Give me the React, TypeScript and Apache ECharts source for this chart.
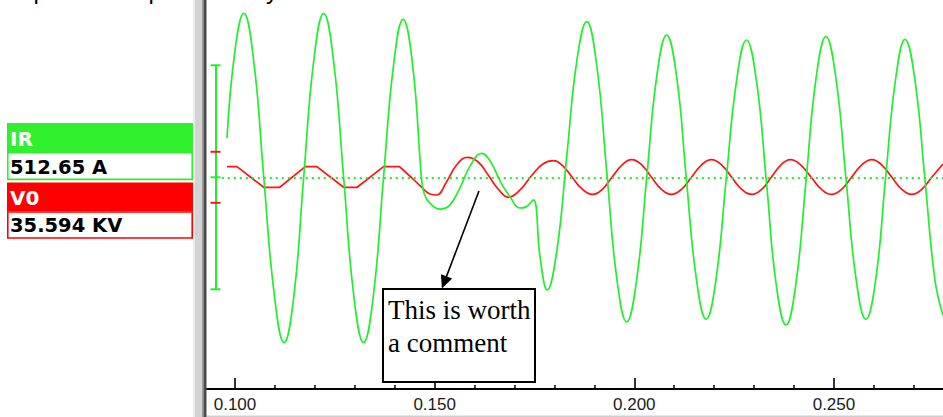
import React, { useEffect, useRef } from "react";
import * as echarts from "echarts";

// ---- data ----
// IR channel (green), time in s, current in A
const irTimes = [
  0.098, 0.1, 0.1022, 0.1047, 0.1072, 0.1098, 0.1123, 0.1148, 0.1172, 0.1197,
  0.1222, 0.1247, 0.1272, 0.1297, 0.1322, 0.1347, 0.1372, 0.1397, 0.1421, 0.1445,
  0.1468, 0.1475, 0.1488, 0.1513, 0.1538, 0.1563, 0.1589, 0.1618, 0.1639, 0.1664,
  0.1689, 0.1714, 0.1729, 0.1747, 0.1764, 0.1782, 0.1806, 0.1831, 0.1856, 0.1881,
  0.1906, 0.1931, 0.1956, 0.1981, 0.2006, 0.2031, 0.2056, 0.2081, 0.2106, 0.213,
  0.2155, 0.218, 0.2205, 0.223, 0.2256, 0.2281, 0.2306, 0.2331, 0.2355, 0.238,
  0.2405, 0.243, 0.2455, 0.248, 0.2505, 0.253, 0.2555, 0.258, 0.2605, 0.2629,
  0.2654, 0.2678, 0.2703, 0.2728, 0.2753, 0.2773,
];
const irAmps = [
  175, 568, 732, 518, 0, -518, -738, -521, 0, 518,
  732, 518, 0, -521, -738, -521, 0, 500, 705, 500,
  -21, -79, -115, -142, -124, -48, 51, 107, 73, -17,
  -88, -137, -132, -101, -356, -503, -327, 96, 519, 695,
  498, 25, -449, -645, -457, -4, 448, 635, 450, 0,
  -448, -634, -451, -11, 430, 613, 429, -23, -473, -659,
  -471, -16, 439, 628, 441, -3, -449, -634, -451, -9,
  433, 616, 432, -12, -459, -615,
];
// V0 channel (red), time in s, voltage in kV — clipped part before the event
const v0PreTimes = [0.098, 0.1005, 0.1072, 0.1112, 0.1176, 0.1205, 0.1272, 0.1306, 0.1372, 0.1412, 0.1443, 0.1472];
const v0PreKV = [20.8, 20.8, -19.6, -19.6, 20.8, 20.8, -19.6, -19.6, 20.8, 20.8, -1.4, -22.9];
// V0 channel after the event
const v0PostTimes = [
  0.1472, 0.1488, 0.1505, 0.153, 0.1555, 0.1582, 0.1609, 0.1634, 0.1659, 0.1685,
  0.1714, 0.1744, 0.1771, 0.1798, 0.1821, 0.1844, 0.1869, 0.1895, 0.192, 0.1944,
  0.1969, 0.1993, 0.2019, 0.2043, 0.2068, 0.2093, 0.2118, 0.2143, 0.2168, 0.2193,
  0.2219, 0.2244, 0.2269, 0.2295, 0.2319, 0.2343, 0.2367, 0.2391, 0.2417, 0.2443,
  0.2469, 0.2494, 0.2519, 0.2544, 0.2569, 0.2595, 0.262, 0.2645, 0.267, 0.2695,
  0.272, 0.2745, 0.2773,
];
const v0PostKV = [
  -22.9, -32.7, -34.7, -8.6, 24.1, 39.2, 30, 4.5, -22.9, -39.2,
  -24.9, 4.5, 26.1, 32.5, 22.2, 0.6, -22.9, -33.7, -23.7, 0,
  24, 34.5, 24, 0, -23.7, -33.7, -23.7, 0, 24, 34.5,
  24, 0, -23.7, -33.7, -23.7, 0, 24, 34.5, 24, 0,
  -23.7, -33.7, -23.7, 0, 24, 34.5, 24, 0, -23.7, -33.7,
  -23.7, 0, 26,
];

const majorTicks = [0.1, 0.15, 0.2, 0.25];
const minorTicks = [0.11, 0.12, 0.13, 0.14, 0.16, 0.17, 0.18, 0.19, 0.21, 0.22, 0.23, 0.24, 0.26, 0.27];

const channelNames = ["IR", "V0"];
const channelReadings = ["512.65 A", "35.594 KV"];
const scaleBarHalf = [500, 50]; // A, kV
const annotationLines = ["This is worth", "a comment"];
const arrowFrom = [0.1611, -61];
const arrowTo = [0.1524, -469];
const zeroLineStart = 0.0967;
const topFragments = ["p", "p", "y"];

// ---- view ----
const X_MIN = 0.092988;
const X_MAX = 0.27731;
const IR_MIN = -945.1;
const IR_MAX = 791.5;
const V0_MIN = -415.1;
const V0_MAX = 347.6;

const GREEN = "#22ee2e";
const GREEN_BOX = "#30f030";
const RED = "#ff1414";
const RED_BOX = "#ff0000";

const zip = (a: number[], b: number[]) => a.map((t, i) => [t, b[i]]);

export default function App() {
  const ref = useRef<HTMLDivElement>(null);

  useEffect(() => {
    document.body.style.margin = "0";
    const chart = echarts.init(ref.current!, null, { renderer: "svg" });

    chart.setOption({
      animation: false,
      backgroundColor: "#ffffff",
      grid: { left: 207, right: 0, top: 0, bottom: 28 },
      xAxis: [
        {
          type: "value",
          min: X_MIN,
          max: X_MAX,
          position: "bottom",
          axisLine: { show: true, onZero: false, lineStyle: { color: "#000", width: 2 } },
          axisTick: {
            show: true,
            inside: true,
            length: 11,
            customValues: majorTicks,
            lineStyle: { color: "#000", width: 1.6 },
          },
          axisLabel: {
            show: true,
            customValues: majorTicks,
            formatter: (v: number) => v.toFixed(3),
            fontSize: 17,
            fontFamily: "Liberation Sans",
            color: "#1a1a1a",
            margin: 7,
          },
          splitLine: { show: false },
        },
        {
          type: "value",
          min: X_MIN,
          max: X_MAX,
          position: "bottom",
          axisLine: { show: false, onZero: false },
          axisTick: {
            show: true,
            inside: true,
            length: 4,
            customValues: minorTicks,
            lineStyle: { color: "#000", width: 1.5 },
          },
          axisLabel: { show: false },
          splitLine: { show: false },
        },
      ],
      yAxis: [
        { type: "value", min: IR_MIN, max: IR_MAX, show: false, splitLine: { show: false } },
        { type: "value", min: V0_MIN, max: V0_MAX, show: false, splitLine: { show: false } },
      ],
      series: [
        {
          name: channelNames[0],
          type: "line",
          xAxisIndex: 0,
          yAxisIndex: 0,
          data: zip(irTimes, irAmps),
          showSymbol: false,
          smooth: 0.45,
          lineStyle: { color: GREEN, width: 1.7 },
          z: 3,
          markLine: {
            silent: true,
            animation: false,
            symbol: ["none", "none"],
            label: { show: false },
            data: [
              [
                { coord: [zeroLineStart, 0], lineStyle: { color: GREEN, width: 2, type: [2, 4] } },
                { coord: [X_MAX, 0] },
              ],
              [
                { coord: arrowFrom, symbol: "none", lineStyle: { color: "#000", width: 1.6, type: "solid" } },
                { coord: arrowTo, symbol: "triangle", symbolSize: [12, 13] },
              ],
            ],
          },
        },
        {
          name: channelNames[1],
          type: "line",
          xAxisIndex: 0,
          yAxisIndex: 1,
          data: zip(v0PreTimes, v0PreKV),
          showSymbol: false,
          smooth: false,
          lineStyle: { color: RED, width: 1.7 },
          z: 2,
        },
        {
          name: channelNames[1] + " ",
          type: "line",
          xAxisIndex: 0,
          yAxisIndex: 1,
          data: zip(v0PostTimes, v0PostKV),
          showSymbol: false,
          smooth: 0.45,
          lineStyle: { color: RED, width: 1.7 },
          z: 2,
        },
      ],
    });

    const yIR = (v: number) => chart.convertToPixel({ yAxisIndex: 0 }, v) as number;
    const yV0 = (v: number) => chart.convertToPixel({ yAxisIndex: 1 }, v) as number;
    const barX = 216;
    const capL = 210.5;
    const capR = 220.5;
    const hLine = (y: number, color: string) => ({
      type: "line",
      shape: { x1: capL, y1: y, x2: capR, y2: y },
      style: { stroke: color, lineWidth: 2 },
      silent: true,
    });

    const txt = (text: string, x: number, y: number, size: number, color: string) => ({
      type: "text",
      x,
      y,
      silent: true,
      style: {
        text,
        fill: color,
        fontSize: size,
        fontWeight: "bold",
        fontFamily: "DejaVu Sans",
        align: "left",
        verticalAlign: "middle",
      },
    });

    const fragX = [33.5, 148.5, 266];
    const fragments = topFragments.map((t, i) => ({
      type: "text",
      x: fragX[i],
      y: -9.5,
      silent: true,
      style: { text: t, fontSize: 24, fontFamily: "Liberation Sans", fill: "#000", verticalAlign: "middle" },
    }));

    chart.setOption({
      graphic: [
        // cut-off line of window text above the chart
        ...fragments,
        // splitter bar
        { type: "rect", silent: true, shape: { x: 193, y: 0, width: 10, height: 417 }, style: { fill: "#d4d4d4" } },
        { type: "rect", silent: true, shape: { x: 193, y: 0, width: 2, height: 417 }, style: { fill: "#ececec" } },
        { type: "rect", silent: true, shape: { x: 202, y: 0, width: 1.5, height: 417 }, style: { fill: "#9a9a9a" } },
        { type: "rect", silent: true, shape: { x: 203.5, y: 0, width: 3, height: 417 }, style: { fill: "#4a4a4a" } },
        { type: "rect", silent: true, shape: { x: 207, y: 415.5, width: 736, height: 1.5 }, style: { fill: "#cfcfcf" } },
        // channel legend
        { type: "rect", silent: true, shape: { x: 7, y: 123, width: 186, height: 29 }, style: { fill: GREEN_BOX } },
        txt(channelNames[0], 10, 139, 20, "#ffffff"),
        { type: "rect", silent: true, shape: { x: 7.8, y: 152.8, width: 184.4, height: 26.6 }, style: { fill: "#fff", stroke: GREEN_BOX, lineWidth: 1.6 } },
        txt(channelReadings[0], 10, 167.5, 19.5, "#000000"),
        { type: "rect", silent: true, shape: { x: 7, y: 182.5, width: 186, height: 28.7 }, style: { fill: RED_BOX } },
        txt(channelNames[1], 10, 197.5, 20, "#ffffff"),
        { type: "rect", silent: true, shape: { x: 7.8, y: 212, width: 184.4, height: 26 }, style: { fill: "#fff", stroke: RED_BOX, lineWidth: 1.6 } },
        txt(channelReadings[1], 10, 225, 19.5, "#000000"),
        // scale bars
        {
          type: "line",
          silent: true,
          shape: { x1: barX, y1: yIR(scaleBarHalf[0]), x2: barX, y2: yIR(-scaleBarHalf[0]) },
          style: { stroke: GREEN, lineWidth: 2 },
        },
        hLine(yIR(scaleBarHalf[0]), GREEN),
        hLine(yIR(0), GREEN),
        hLine(yIR(-scaleBarHalf[0]), GREEN),
        hLine(yV0(scaleBarHalf[1]), RED),
        hLine(yV0(-scaleBarHalf[1]), RED),
        // annotation box
        {
          type: "rect",
          silent: true,
          z: 10,
          shape: { x: 383, y: 289, width: 152, height: 93 },
          style: { fill: "#ffffff", stroke: "#000000", lineWidth: 2 },
        },
        {
          type: "text",
          silent: true,
          z: 11,
          x: 388,
          y: 310,
          style: { text: annotationLines[0], fill: "#000", fontSize: 27, fontFamily: "Liberation Serif", verticalAlign: "middle" },
        },
        {
          type: "text",
          silent: true,
          z: 11,
          x: 388,
          y: 343,
          style: { text: annotationLines[1], fill: "#000", fontSize: 27, fontFamily: "Liberation Serif", verticalAlign: "middle" },
        },
      ],
    });

    return () => chart.dispose();
  }, []);

  return <div ref={ref} style={{ width: 943, height: 417 }} />;
}
